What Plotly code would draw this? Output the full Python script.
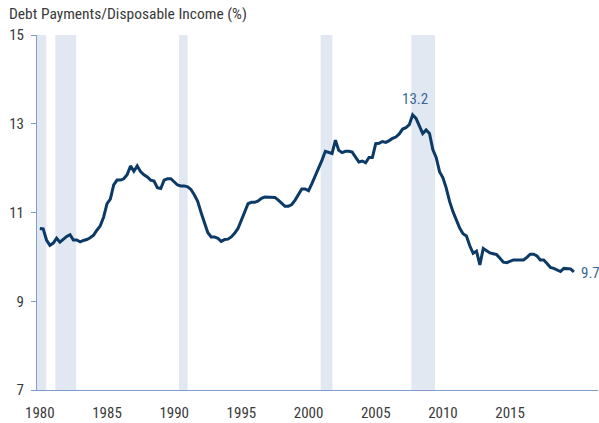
import datetime as dt
import pandas as pd
import plotly.graph_objects as go

# Quarterly debt payments / disposable income (%), 1980Q1 - 2019Q4
quarters = pd.period_range("1980Q1", "2019Q4", freq="Q").to_timestamp()
values = [
    # 1980
    10.64, 10.63, 10.38, 10.26,
    # 1981
    10.31, 10.42, 10.33, 10.40,
    # 1982
    10.46, 10.50, 10.38, 10.38,
    # 1983
    10.34, 10.37, 10.39, 10.43,
    # 1984
    10.49, 10.60, 10.70, 10.90,
    # 1985
    11.20, 11.30, 11.62, 11.73,
    # 1986
    11.73, 11.76, 11.85, 12.05,
    # 1987
    11.93, 12.05, 11.92, 11.85,
    # 1988
    11.80, 11.73, 11.71, 11.56,
    # 1989
    11.54, 11.73, 11.76, 11.76,
    # 1990
    11.68, 11.62, 11.60, 11.60,
    # 1991
    11.58, 11.52, 11.40, 11.25,
    # 1992
    11.00, 10.75, 10.55, 10.45,
    # 1993
    10.45, 10.42, 10.35, 10.39,
    # 1994
    10.40, 10.45, 10.53, 10.64,
    # 1995
    10.83, 11.04, 11.20, 11.23,
    # 1996
    11.23, 11.26, 11.32, 11.35,
    # 1997
    11.35, 11.35, 11.34, 11.28,
    # 1998
    11.21, 11.14, 11.14, 11.18,
    # 1999
    11.28, 11.42, 11.53, 11.53,
    # 2000
    11.49, 11.65, 11.82, 12.03,
    # 2001
    12.18, 12.38, 12.35, 12.33,
    # 2002
    12.63, 12.40, 12.35, 12.38,
    # 2003
    12.38, 12.36, 12.25, 12.14,
    # 2004
    12.16, 12.12, 12.24, 12.24,
    # 2005
    12.55, 12.56, 12.60, 12.58,
    # 2006
    12.62, 12.67, 12.70, 12.77,
    # 2007
    12.88, 12.91, 12.98, 13.20,
    # 2008
    13.12, 12.95, 12.78, 12.86,
    # 2009
    12.78, 12.42, 12.24, 11.92,
    # 2010
    11.78, 11.55, 11.25, 11.02,
    # 2011
    10.82, 10.65, 10.52, 10.47,
    # 2012
    10.25, 10.08, 10.13, 9.82,
    # 2013
    10.19, 10.13, 10.09, 10.07,
    # 2014
    10.05, 9.97, 9.88, 9.87,
    # 2015
    9.90, 9.93, 9.93, 9.93,
    # 2016
    9.93, 9.99, 10.06, 10.06,
    # 2017
    10.02, 9.93, 9.93, 9.85,
    # 2018
    9.76, 9.74, 9.70, 9.67,
    # 2019
    9.74, 9.74, 9.73, 9.66,
]

# Recession bands (decimal years)
recession_starts = [1979.75, 1981.15, 1990.36, 2000.90, 2007.65]
recession_ends = [1980.48, 1982.71, 1991.00, 2001.77, 2009.41]

tick_years = [1980, 1985, 1990, 1995, 2000, 2005, 2010, 2015]
y_ticks = [7, 9, 11, 13, 15]

peak_label = "13.2"
last_label = "9.7"


def ydate(v):
    year = int(v)
    start = dt.datetime(year, 1, 1)
    end = dt.datetime(year + 1, 1, 1)
    return start + (end - start) * (v - year)


LINE = "#0c3a66"
BAND = "#e1e8f2"
AXIS = "#7f9ccb"
TEXT = "#3a3a3a"
ANN = "#3b6690"
FONT = "Liberation Sans Narrow, Arial Narrow, Roboto Condensed, DejaVu Sans Condensed, sans-serif"

fig = go.Figure()

for s, e in zip(recession_starts, recession_ends):
    fig.add_vrect(x0=ydate(s), x1=ydate(e), fillcolor=BAND, line_width=0, layer="below", opacity=1)

fig.add_trace(go.Scatter(
    x=quarters, y=values, mode="lines",
    line=dict(color=LINE, width=3), hoverinfo="skip", showlegend=False,
))

peak_i = values.index(max(values))
fig.add_annotation(x=quarters[peak_i], y=values[peak_i], text=peak_label, showarrow=False,
                   yshift=16, xshift=2, font=dict(family=FONT, size=15, color=ANN))
fig.add_annotation(x=quarters[-1], y=values[-1], text=last_label, showarrow=False,
                   xanchor="left", xshift=5, yshift=-1, font=dict(family=FONT, size=15, color=ANN))

fig.update_layout(
    width=599, height=423,
    margin=dict(l=37, r=1, t=35, b=33),
    plot_bgcolor="white", paper_bgcolor="white",
    font=dict(family=FONT, size=15, color=TEXT),
    title=dict(text="Debt Payments/Disposable Income (%)", xref="container", yref="container",
               x=9 / 599, xanchor="left", y=1 - 14 / 423, yanchor="middle",
               font=dict(family=FONT, size=15.5, color=TEXT)),
    xaxis=dict(
        type="date",
        range=[ydate(1979.79), ydate(2021.54)],
        tickvals=[dt.datetime(y, 1, 1) for y in tick_years],
        ticktext=[str(y) for y in tick_years],
        showline=True, linecolor=AXIS, linewidth=1,
        ticks="outside", ticklen=9, tickcolor="rgba(0,0,0,0)",
        showgrid=False, zeroline=False,
        tickfont=dict(family=FONT, size=15, color=TEXT),
    ),
    yaxis=dict(
        range=[7, 15],
        tickvals=y_ticks,
        ticktext=[str(v) for v in y_ticks],
        showline=True, linecolor=AXIS, linewidth=1,
        ticks="outside", ticklen=5, tickcolor=AXIS, tickwidth=1,
        ticklabelstandoff=4,
        showgrid=False, zeroline=False,
        tickfont=dict(family=FONT, size=15, color=TEXT),
    ),
)

fig.write_html("out.html", config={"displayModeBar": False},
               post_script="document.body.style.margin='0';")
